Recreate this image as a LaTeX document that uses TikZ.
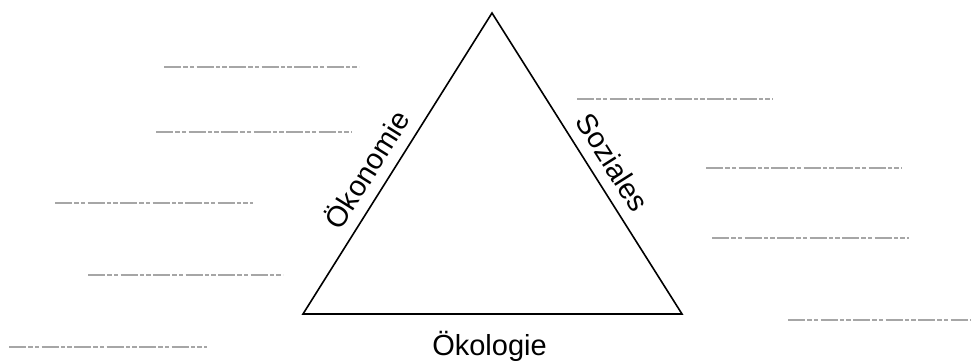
\documentclass[tikz,border=0pt]{standalone}
\usepackage{fontspec}
\setmainfont{Liberation Sans}
\usetikzlibrary{calc}
\begin{document}
\begin{tikzpicture}[x=1pt,y=1pt,
  side/.style={draw=black, line width=1.6pt, line join=miter},
  blank/.style={draw=black!35, line width=1.3pt, dash pattern=on 17pt off 2.3pt on 4.3pt off 2.3pt on 4.3pt off 2.3pt},
  lab/.style={font=\fontsize{29}{34}\selectfont, inner sep=0pt}]
\useasboundingbox (0,0) rectangle (971,361);
\coordinate (A) at (492,348);
\coordinate (B) at (303,47);
\coordinate (C) at (682,47);
\draw[side] (A) -- (B) -- (C) -- cycle;
\coordinate (pL) at ($(B)!0.44!(A)$);
\coordinate (pR) at ($(A)!0.536!(C)$);
\node[lab, anchor=base, rotate=57.9] (oekonomie) at ($(pL)!12pt!90:(A)$) {Ökonomie};
\node[lab, anchor=base, rotate=-57.7] (soziales) at ($(pR)!12pt!90:(C)$) {Soziales};
\node[lab, anchor=base] (oekologie) at (489.5,5) {Ökologie};
% blank lines left
\draw[blank] (164,294) -- (359,294);
\draw[blank] (156,229) -- (352,229);
\draw[blank] (55,158) -- (253,158);
\draw[blank] (88,86) -- (283,86);
\draw[blank] (9,14) -- (207,14);
% blank lines right
\draw[blank] (577,262) -- (773,262);
\draw[blank] (706,193) -- (902,193);
\draw[blank] (712,123) -- (909,123);
\draw[blank] (788,41) -- (971,41);
\end{tikzpicture}
\end{document}
